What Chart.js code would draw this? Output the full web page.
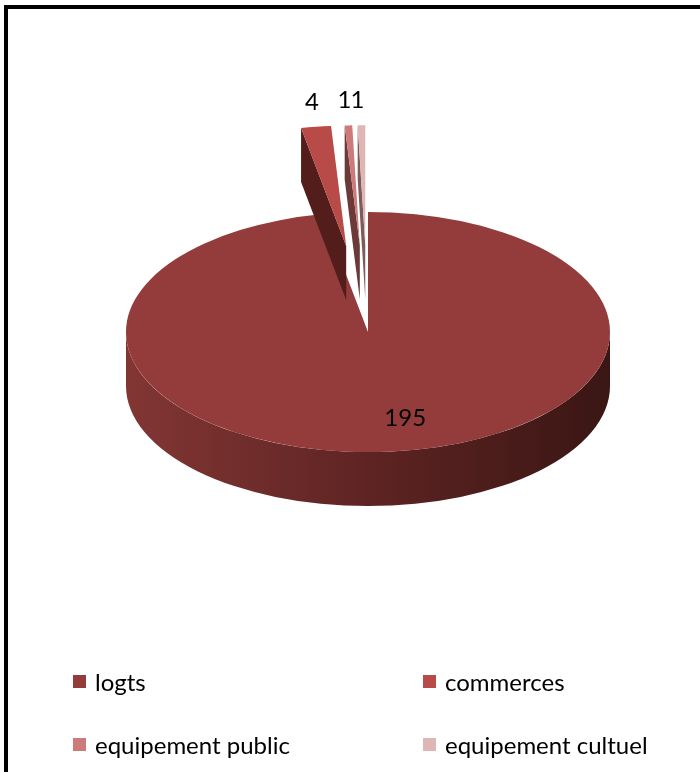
<!DOCTYPE html>
<html>
<head>
<meta charset="utf-8">
<script src="https://cdn.jsdelivr.net/npm/chart.js@4.4.1/dist/chart.umd.min.js"></script>
<style>
  body { margin: 0; background: #fff; font-family: Lato, "DejaVu Sans", sans-serif; }
  #frame { position: absolute; left: 4px; top: 5px; width: 800px; height: 900px; border: 4px solid #000; }
  #pie { position: absolute; left: 0; top: 0; }
  #legend { position: absolute; left: 73px; top: 650px; display: grid; grid-template-columns: 350px 250px; grid-auto-rows: 63px; }
  #legend div { display: flex; align-items: center; height: 63px; font-size: 24px; color: #000; }
  #legend span { display: inline-block; width: 13px; height: 13px; margin-right: 9px; }
</style>
</head>
<body>
<div id="frame"></div>
<canvas id="pie" width="700" height="772"></canvas>
<div id="legend"></div>
<script>
// Categories and counts
const labels = ['logts', 'commerces', 'equipement public', 'equipement cultuel'];
const values = [195, 4, 1, 1];
// Which slices are pulled out of the pie
const exploded = [false, true, true, true];

const sliceColors = ['#943c3b', '#b84a48', '#cd7b7a', '#e0b5b5'];
const edgeColors = ['#5a2220', '#521d1b', '#6a3938', '#7d5b5b'];

const TILT = 0.496;   // vertical squash of the pie
const DEPTH = 54;     // thickness of the pie
const PULL = 175;     // distance exploded slices move out

function sliceGeom(arc, i) {
  const p = arc.getProps(['x', 'y', 'startAngle', 'endAngle', 'outerRadius'], true);
  const mid = (p.startAngle + p.endAngle) / 2;
  const d = exploded[i] ? PULL : 0;
  return {
    ...p, mid,
    ox: p.x + Math.cos(mid) * d,
    oy: p.y + Math.sin(mid) * d * TILT
  };
}

// Draws the rim and cut faces, then the top face squashed into an ellipse
const pie3d = {
  id: 'pie3d',
  beforeDatasetsDraw(chart) {
    const ctx = chart.ctx;
    const arcs = chart.getDatasetMeta(0).data;
    arcs.forEach((arc, i) => {
      const g = sliceGeom(arc, i);
      const r = g.outerRadius;

      // front rim (only the part facing the viewer)
      const a1 = Math.max(g.startAngle, 0), a2 = Math.min(g.endAngle, Math.PI);
      if (a2 > a1) {
        const grad = ctx.createLinearGradient(g.ox - r, 0, g.ox + r, 0);
        grad.addColorStop(0, '#823634');
        grad.addColorStop(0.5, '#5e2423');
        grad.addColorStop(1, '#3a1614');
        ctx.beginPath();
        ctx.ellipse(g.ox, g.oy, r, r * TILT, 0, a1, a2);
        ctx.lineTo(g.ox + r * Math.cos(a2), g.oy + r * Math.sin(a2) * TILT + DEPTH);
        ctx.ellipse(g.ox, g.oy + DEPTH, r, r * TILT, 0, a2, a1, true);
        ctx.closePath();
        ctx.fillStyle = grad;
        ctx.fill();
      }

      // radial cut faces
      [[g.startAngle, -1], [g.endAngle, 1]].forEach(([a, side]) => {
        if (Math.cos(a) * side <= 1e-6) return;
        const ex = g.ox + r * Math.cos(a), ey = g.oy + r * Math.sin(a) * TILT;
        ctx.beginPath();
        ctx.moveTo(g.ox, g.oy);
        ctx.lineTo(ex, ey);
        ctx.lineTo(ex, ey + DEPTH);
        ctx.lineTo(g.ox, g.oy + DEPTH);
        ctx.closePath();
        ctx.fillStyle = edgeColors[i];
        ctx.fill();
      });

      // top face
      ctx.save();
      ctx.translate(g.ox, g.oy);
      ctx.scale(1, TILT);
      ctx.translate(-g.x, -g.y);
      arc.draw(ctx);
      ctx.restore();
    });
    return false;
  },
  // value labels (afterDatasetsDraw is skipped when drawing is cancelled above)
  afterDraw(chart) {
    const ctx = chart.ctx;
    const arcs = chart.getDatasetMeta(0).data;
    ctx.save();
    ctx.font = '24px Lato';
    ctx.fillStyle = '#000';
    ctx.textBaseline = 'middle';
    arcs.forEach((arc, i) => {
      const g = sliceGeom(arc, i);
      const r = g.outerRadius;
      const text = String(values[i]);
      if (exploded[i]) {
        ctx.textAlign = 'center';
        ctx.fillText(text, g.ox + r * Math.cos(g.mid) - 4, g.oy + r * Math.sin(g.mid) * TILT - 25);
      } else {
        ctx.textAlign = 'left';
        ctx.fillText(text, g.ox + 0.72 * r * Math.cos(g.mid), g.oy + 0.72 * r * Math.sin(g.mid) * TILT);
      }
    });
    ctx.restore();
  }
};

const chart = new Chart(document.getElementById('pie'), {
  type: 'pie',
  data: {
    labels: labels,
    datasets: [{
      data: values,
      backgroundColor: sliceColors,
      borderWidth: 0,
      radius: 242
    }]
  },
  options: {
    responsive: false,
    animation: false,
    layout: { padding: { left: 36, right: 0, top: 0, bottom: 108 } },
    plugins: {
      legend: { display: false },
      tooltip: { enabled: false }
    }
  },
  plugins: [pie3d]
});

// Legend in a two-column grid below the pie
const legend = document.getElementById('legend');
chart.data.labels.forEach((name, i) => {
  const item = document.createElement('div');
  const box = document.createElement('span');
  box.style.background = sliceColors[i];
  item.appendChild(box);
  item.appendChild(document.createTextNode(name));
  legend.appendChild(item);
});
</script>
</body>
</html>
